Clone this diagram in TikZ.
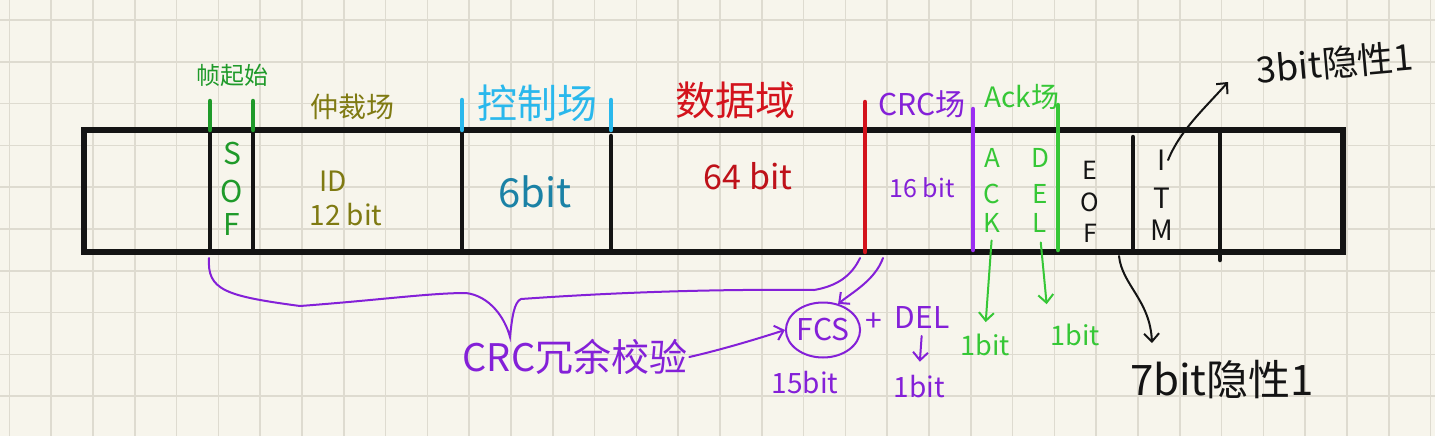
\documentclass[tikz,border=0pt]{standalone}
\usepackage{fontspec}
\setmainfont{Noto Sans CJK SC}
\usepackage{tikz}
\usetikzlibrary{arrows.meta}
\usetikzlibrary{shapes.geometric}
\definecolor{paper}{HTML}{F7F5EC}
\definecolor{gridgrey}{HTML}{DEDBD0}
\definecolor{ink}{HTML}{141414}
\definecolor{sofgreen}{HTML}{1F9A2A}
\definecolor{olive}{HTML}{7F7A12}
\definecolor{ctrlcyan}{HTML}{2AB8EC}
\definecolor{ctrlteal}{HTML}{1B82A6}
\definecolor{datared}{HTML}{D3131C}
\definecolor{crcpurple}{HTML}{8420D8}
\definecolor{lineviolet}{HTML}{9B2EF2}
\definecolor{ackgreen}{HTML}{36C736}
\newcommand{\setsz}[1]{\fontsize{#1}{#1}\selectfont}

\begin{document}
\begin{tikzpicture}[x=1pt, y=-1pt, >={Straight Barb[length=8pt,width=15pt]},
		gridline/.style={draw=gridgrey, line width=1.6pt},
		canbox/.style={draw=ink, line width=5.5pt, line cap=round},
		sep/.style={line width=4.5pt, line cap=round},
		pen/.style={line width=2pt, line cap=round},
		lbl/.style={inner sep=0pt, outer sep=2pt}]
			% paper
			\useasboundingbox (0,0) rectangle (1435,439);
			\fill[white] (0,0) rectangle (1435,439);
			\fill[paper] (0,0) rectangle (1435,436);
			\foreach \k in {0,...,34} \draw[gridline] ({9.3+41.8*\k},0) -- ++(0,436);
			\foreach \k in {0,...,9} \draw[gridline] (0,{20+41.8*\k}) -- ++(1435,0);
			% frame
			\draw[canbox] (84,130) rectangle (1343,252);
			\foreach \x/\a/\b in {210/130/252, 253/130/252, 462/130/252, 611/136/252, 1133/137/252, 1220/130/260}
				\draw[sep, ink] (\x,\a) -- (\x,\b);
			\draw[sep, sofgreen] (210,101) -- (210,130);
			\draw[sep, sofgreen] (253,101) -- (253,130);
			\draw[sep, ctrlcyan] (462,100) -- (462,130);
			\draw[sep, ctrlcyan] (611,100) -- (611,130);
			\draw[sep, datared] (865,102) -- (865,252);
			\draw[sep, lineviolet] (973,109) -- (973,250);
			\draw[sep, ackgreen] (1058,105) -- (1058,250);
			% field titles
			\node[lbl, sofgreen] (softitle) at (232,75) {\setsz{24}帧起始};
			\node[lbl, olive] (arbtitle) at (352,107) {\setsz{28}仲裁场};
			\node[lbl, ctrlcyan] (ctrltitle) at (537,103) {\setsz{40}控制场};
			\node[lbl, datared] (datatitle) at (735,100) {\setsz{40}数据域};
			\node[lbl, crcpurple] (crctitle) at (922,104) {\setsz{30}CRC场};
			\node[lbl, ackgreen] (acktitle) at (1022,97) {\setsz{28}Ack场};
			% field contents
			\foreach \c/\y in {S/154, O/192, F/225}
				\node[lbl, sofgreen] (sof\c) at (232,\y) {\setsz{30}\c};
			\node[lbl, olive] (idtxt) at (333,181) {\setsz{28}ID};
			\node[lbl, olive] (idbits) at (346,215) {\setsz{28}12 bit};
			\node[lbl, ctrlteal] (ctrlbits) at (535,192) {\setsz{40}6bit};
			\node[lbl, datared!90!black] (databits) at (748,176) {\setsz{34}64 bit};
			\node[lbl, crcpurple] (crcbits) at (922,188) {\setsz{25}16 bit};
			\foreach \c/\y in {A/158, C/194, K/223}
				\node[lbl, ackgreen] (ack\c) at (992,\y) {\setsz{26}\c};
			\foreach \c/\y in {D/158, E/194, L/223}
				\node[lbl, ackgreen] (del\c) at (1040,\y) {\setsz{26}\c};
			\foreach \c/\y in {E/170, O/202, F/233}
				\node[lbl, ink, outer sep=0pt] (eof\c) at (1090,\y) {\setsz{25}\c};
			\foreach \c/\y in {I/160, T/198, M/230}
				\node[lbl, ink] (itm\c) at (1162,\y) {\setsz{28}\c};
			% notes below
			\node[lbl, crcpurple] (crcnote) at (575,357) {\setsz{38}CRC冗余校验};
			\node[draw=crcpurple, pen, ellipse, minimum width=74pt, minimum height=55pt, inner sep=0pt, text=crcpurple] (fcs) at (823,330) {\setsz{30}FCS};
			\node[lbl, crcpurple] (plus) at (874,322) {\setsz{30}+};
			\node[lbl, crcpurple] (fcsdel) at (922,318) {\setsz{30}DEL};
			\node[lbl, crcpurple] (fcsbits) at (805,383) {\setsz{28}15bit};
			\node[lbl, crcpurple] (delbits) at (919,387) {\setsz{28}1bit};
			\node[lbl, ackgreen] (ackbits) at (985,345) {\setsz{27}1bit};
			\node[lbl, ackgreen] (ackdelbits) at (1075,335) {\setsz{27}1bit};
			\node[lbl, ink] (eofnote) at (1222,380) {\setsz{42}7bit隐性1};
			\node[lbl, ink, rotate=5] (itmnote) at (1335,63) {\setsz{36}3bit隐性1};
			% brace over SOF .. data
			\draw[pen, crcpurple] (209,258) .. controls (207,290) and (225,296) .. (300,306)
				.. controls (380,300) and (430,293) .. (466,293)
				.. controls (490,296) and (505,318) .. (510,337)
				.. controls (512,318) and (514,302) .. (521,299)
				.. controls (620,292) and (720,289) .. (814,290)
				.. controls (838,286) and (852,275) .. (860,258);
			% arrows
			\coordinate (crcout) at (883,258);
			\coordinate (eofout) at (1119,256);
			\coordinate (eofin) at (1152,343);
			\coordinate (itmtip) at (1228,82);
			\draw[pen, crcpurple, ->] (crcnote.east) .. controls +(35,-8) and +(-25,8) .. (fcs.west);
			\draw[pen, crcpurple, ->] (crcout) .. controls +(-8,22) and +(15,-12) .. (fcs.60);
			\draw[pen, crcpurple, ->, shorten <=5pt, shorten >=12pt] (fcsdel.south) -- (delbits.north);
			\draw[pen, ackgreen, ->, shorten <=6pt, shorten >=10pt] (ackK.south) -- (ackbits.north);
			\draw[pen, ackgreen, ->, shorten <=8pt, shorten >=18pt] (delL.south) -- (ackdelbits.north west);
			\draw[pen, ink, ->] (eofout) .. controls (1122,285) and (1150,300) .. (eofin);
			\draw[pen, ink, ->] (itmI.east) .. controls +(12,-30) and +(-22,25) .. (itmtip);
		\end{tikzpicture}
\end{document}
